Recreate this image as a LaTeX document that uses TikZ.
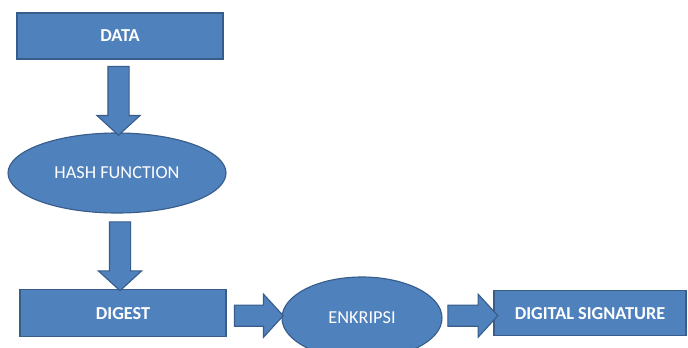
\documentclass[tikz,border=0pt]{standalone}
\usepackage{fontspec}
\setmainfont{Carlito}
\usetikzlibrary{shapes.geometric,shapes.arrows}
\definecolor{boxblue}{HTML}{4F81BD}
\definecolor{boxline}{HTML}{385D8A}
\tikzset{
  box/.style={draw=boxline,fill=boxblue,line width=0.8pt,text=white,font=\fontsize{13}{15}\selectfont\bfseries,inner sep=0pt},
  oval/.style={ellipse,draw=boxline,fill=boxblue,line width=0.8pt,text=white,font=\fontsize{13}{15}\selectfont,inner sep=0pt},
  blockarrow/.style={single arrow,draw=boxline,fill=boxblue,line width=0.8pt,inner sep=0.25cm,
    minimum width=1.05cm,single arrow head extend=0.275cm,single arrow tip angle=95}
}

\begin{document}
\begin{tikzpicture}
    \clip (0,0) rectangle (17.2,8.675);
    \fill[white] (0,0) rectangle (17.2,8.675);

    \node[box,minimum width=5.15cm,minimum height=1.15cm] (data) at (3.0,7.775) {DATA};
    \node[oval,minimum width=5.45cm,minimum height=2.0cm] (hash) at (2.925,4.35) {HASH FUNCTION};
    \node[box,minimum width=5.15cm,minimum height=1.175cm] (digest) at (3.075,0.84) {DIGEST};
    \node[oval,minimum width=4.0cm,minimum height=2.05cm] (enc) at (9.05,0.725) {ENKRIPSI};
    \node[box,minimum width=4.8cm,minimum height=1.125cm] (sig) at (14.75,0.84) {DIGITAL SIGNATURE};

    % block arrows between the steps
    \path (data.south) -- node[blockarrow,shape border rotate=270,minimum height=1.72cm] {} (hash.north);
    \path (hash.south) -- node[blockarrow,shape border rotate=270,minimum height=1.72cm] {} (digest.north);
    \path (digest.east) -- node[blockarrow,minimum height=1.22cm] {} (enc.west);
    \path (enc.east) -- node[blockarrow,minimum height=1.25cm] {} (sig.west);
\end{tikzpicture}
\end{document}
